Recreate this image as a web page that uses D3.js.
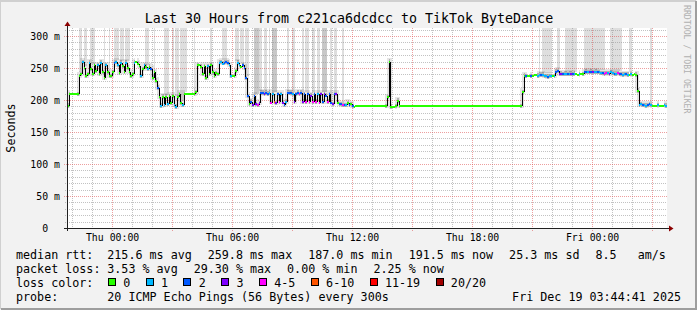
<!DOCTYPE html>
<html><head><meta charset="utf-8">
<script src="https://cdn.jsdelivr.net/npm/d3@7"></script>
<style>
html,body{margin:0;padding:0;background:#f2f2f2;}
svg{display:block;}
text{font-family:"DejaVu Sans Mono",monospace;fill:#000;}
</style></head><body>
<svg id="chart" width="697" height="310"></svg>
<script>
// ---------------- data ----------------
const titleText = "Last 30 Hours from c221ca6dcdcc to TikTok ByteDance";
const startTime = "2025-12-17T21:44:41";
const endTime   = "2025-12-19T03:44:41";
const stepMinutes = 5;

// median rtt (ms) for each 5-minute step
const median = [
 191,209,209,209,209,209,209,237,240,
 259,250,237,240,258,248,240,254,245,254,240,258,243,235,254,243,237,237,243,258,
 259,254,242,258,253,243,258,250,243,237,240,258,259,257,253,237,248,254,252,248,
 252,248,235,243,230,219,204,
 191,205,192,205,193,206,195,206,192,189,204,209,195,192,
 209,209,209,209,209,209,209,212,
 254,254,252,240,253,235,253,240,254,243,237,242,240,258,259,257,258,259,258,254,
 237,237,238,245,258,254,252,254,250,234,206,
 193,197,192,206,193,192,195,211,211,210,211,210,211,196,209,197,195,209,197,209,
 196,192,197,211,211,211,209,197,209,211,209,211,197,209,197,209,197,207,197,209,
 197,209,196,209,197,209,207,197,209,196,193,209,209,196,193,193,192,192,192,195,
 192,193,190,189,
 190,190,190,190,190,190,190,190,190,190,190,190,190,190,190,190,190,190,190,
 204,260,189,189,189,190,199,
 190,190,190,190,190,190,190,190,190,190,190,190,190,190,190,190,190,190,190,190,
 190,190,190,190,190,190,190,190,190,190,190,190,190,190,190,190,190,190,190,190,
 190,190,190,190,190,190,190,190,190,190,190,190,190,190,190,190,190,190,190,190,
 190,190,190,190,190,190,190,190,190,190,190,190,190,190,
 212,
 238,237,238,238,237,238,239,239,238,239,239,239,237,237,236,237,237,238,237,244,
 245,241,241,240,241,241,240,241,241,240,241,240,239,240,241,240,243,244,243,243,
 244,243,243,244,243,243,242,242,241,242,242,241,243,242,241,241,242,240,240,239,
 240,240,239,239,240,239,240,239,214,
 192,193,192,192,191,192,193,192,191,191,191,192,191,191,191,192,191
];

// loss class per step (index into lossLabels)
const lossClass = [
 0,0,0,0,0,0,0,0,0,
 1,0,0,0,1,0,0,0,0,1,0,1,0,0,1,0,0,0,0,2,1,1,0,1,0,0,1,0,0,0,0,1,0,0,0,1,0,1,0,1,0,2,0,0,0,2,0,
 1,0,1,0,1,0,0,0,1,1,0,0,0,1,
 0,0,0,0,0,0,0,0,
 0,0,0,0,0,0,1,0,0,0,0,0,0,1,1,1,2,2,2,1,1,0,0,0,1,1,0,2,2,2,2,
 0,2,3,2,3,4,3,2,2,3,2,2,1,4,1,5,3,2,4,1,3,2,1,2,2,2,1,3,2,2,4,2,3,2,4,2,4,3,4,2,4,1,4,3,2,3,2,4,2,2,3,2,3,0,2,2,4,2,1,0,2,0,2,0,
 0,0,0,0,0,0,0,0,0,0,0,0,0,0,0,0,0,0,0,0,0,0,0,0,0,0,0,0,0,0,0,0,0,0,0,0,0,0,0,0,0,0,0,0,0,0,0,0,0,0,
 0,0,0,0,0,0,0,0,0,0,0,0,0,0,0,0,0,0,0,0,0,0,0,0,0,0,0,0,0,0,0,0,0,0,0,0,0,0,0,0,0,0,0,0,0,0,0,0,0,0,
 0,0,2,0,0,2,0,0,0,1,1,2,1,1,1,2,1,1,0,1,2,2,3,3,2,1,1,2,1,3,2,1,0,0,1,0,0,2,2,1,3,2,3,1,1,2,1,1,2,4,
 4,1,3,1,1,2,1,4,3,2,1,1,2,1,0,1,0,0,0,0,
 1,1,2,1,1,2,2,1,0,0,0,1,0,0,0,1,1
];

// steps where part of the pings exceeded the top of the graph: [firstStep, lastStep, level]
const highPings = [
 [7,8,1],[10,11,1],[14,16,1],[22,22,1],[25,25,1],[28,30,1],[32,33,1],[35,37,1],[47,48,1],[52,52,1],
 [58,60,1],[63,63,1],[65,66,1],[68,69,1],[70,71,1],[76,76,1],
 [86,86,1],[93,95,1],[101,102,1],[104,105,1],[107,108,1],[112,114,2],[115,116,1],[118,119,1],[121,121,1],
 [123,125,2],[132,132,1],[135,136,1],[141,141,1],[143,144,1],[147,148,1],[150,151,1],[153,155,2],
 [158,158,1],[160,161,1],[165,165,1],
 [283,283,1],[285,290,1],[294,295,1],[299,305,1],[310,322,1],[326,332,1],[337,338,1],[350,350,1]
];

const yTicks = [0,50,100,150,200,250,300];
const yTickLabels = ["0","50 m","100 m","150 m","200 m","250 m","300 m"];
const xTicks = ["2025-12-18T00:00:00","2025-12-18T06:00:00","2025-12-18T12:00:00","2025-12-18T18:00:00","2025-12-19T00:00:00"];
const xTickLabels = ["Thu 00:00","Thu 06:00","Thu 12:00","Thu 18:00","Fri 00:00"];

const lossLabels = ["0","1","2","3","4-5","6-10","11-19","20/20"];
const lossColors = ["#26ff00","#00b8ff","#0059ff","#7e00ff","#ff00ff","#ff5500","#ff0000","#a10000"];

const rttLegend  = ["215.6 ms avg","259.8 ms max","187.0 ms min","191.5 ms now","25.3 ms sd","8.5   am/s"];
const lossLegend = ["3.53 % avg","29.30 % max","0.00 % min","2.25 % now"];
const probeText = "20 ICMP Echo Pings (56 Bytes) every 300s";
const dateText = "Fri Dec 19 03:44:41 2025";
const yAxisTitle = "Seconds";
const sideText = "RRDTOOL / TOBI OETIKER";

// ---------------- layout ----------------
const W = 697, H = 310;
const plot = {left:67, right:667, top:28, bottom:228};
const svg = d3.select("#chart");

const t0 = new Date(startTime), t1 = new Date(endTime);
const x = d3.scaleTime().domain([t0, t1]).range([plot.left, plot.right]);
const y = d3.scaleLinear().domain([0, 312.5]).range([plot.bottom, plot.top]);
const stepStart = i => d3.timeMinute.offset(t0, i*stepMinutes);

// background & frame
svg.append("rect").attr("width",W).attr("height",H).attr("fill","#f2f2f2");
svg.append("path").attr("d",`M0,${H-1}V1H${W-1}`).attr("fill","none").attr("stroke","#d0d0d0").attr("stroke-width",2);
svg.append("path").attr("d",`M1,${H-1}H${W-1}V1`).attr("fill","none").attr("stroke","#9e9e9e").attr("stroke-width",2);

// canvas
svg.append("rect").attr("x",plot.left).attr("y",plot.top)
  .attr("width",plot.right-plot.left).attr("height",plot.bottom-plot.top).attr("fill","#fff");

const gData = svg.append("g").attr("shape-rendering","crispEdges");

// high ping bars (smoke reaching top of graph)
highPings.forEach(([a,b,lv]) => {
  const top = d3.max(median.slice(a,b+1));
  gData.append("rect")
    .attr("x", x(stepStart(a))).attr("width", x(stepStart(b+1)) - x(stepStart(a)))
    .attr("y", plot.top).attr("height", y(top+3) - plot.top)
    .attr("fill", lv===2 ? "#c8c8c8" : "#dedede");
});

// smoke around median
median.forEach((v,i) => {
  const nb = median.slice(Math.max(0,i-1), Math.min(median.length,i+2));
  const lo = d3.min(nb), hi = d3.max(nb);
  if (hi - lo > 2 || lossClass[i] > 0) {
    const x0 = x(stepStart(i)), x1 = x(stepStart(i+1));
    gData.append("rect").attr("x",x0).attr("width",x1-x0)
      .attr("y", y(hi+6)).attr("height", y(lo-3)-y(hi+6)).attr("fill","rgba(0,0,0,0.10)");
    gData.append("rect").attr("x",x0).attr("width",x1-x0)
      .attr("y", y(v+4)).attr("height", y(v-3)-y(v+4)).attr("fill","rgba(0,0,0,0.22)");
  }
});

// grid
const gGrid = svg.append("g").attr("shape-rendering","crispEdges");
const minorY = d3.range(0, 312.5, 10).filter(v => v % 50 !== 0);
const majorY = d3.range(0, 312.5, 50);
const hours = d3.timeHour.every(1).range(t0, t1);
const minorX = hours.filter(d => d.getHours() % 3 !== 0);
const majorX = hours.filter(d => d.getHours() % 3 === 0);
const gridGray = "rgba(143,143,143,0.55)", gridRed = "rgba(222,80,80,0.55)";
minorY.forEach(v => gGrid.append("line").attr("x1",plot.left-2).attr("x2",plot.right)
  .attr("y1",Math.round(y(v))+0.5).attr("y2",Math.round(y(v))+0.5)
  .attr("stroke",gridGray).attr("stroke-dasharray","1,1"));
minorX.forEach(d => gGrid.append("line").attr("y1",plot.top).attr("y2",plot.bottom+2)
  .attr("x1",Math.round(x(d))+0.5).attr("x2",Math.round(x(d))+0.5)
  .attr("stroke",gridGray).attr("stroke-dasharray","1,1"));
majorY.filter(v=>v>0).forEach(v => gGrid.append("line").attr("x1",plot.left-3).attr("x2",plot.right)
  .attr("y1",Math.round(y(v))+0.5).attr("y2",Math.round(y(v))+0.5)
  .attr("stroke",gridRed).attr("stroke-dasharray","1,1"));
majorX.forEach(d => gGrid.append("line").attr("y1",plot.top).attr("y2",plot.bottom+3)
  .attr("x1",Math.round(x(d))+0.5).attr("x2",Math.round(x(d))+0.5)
  .attr("stroke",gridRed).attr("stroke-dasharray","1,1"));

// median line: colored step segments + black connectors
const gLine = svg.append("g").attr("shape-rendering","crispEdges");
let conn = "";
median.forEach((v,i) => {
  if (i>0 && median[i-1] !== v) {
    const xx = Math.round(x(stepStart(i)))+0.5;
    conn += `M${xx},${Math.round(y(median[i-1]))}V${Math.round(y(v))}`;
  }
});
gLine.append("path").attr("d",conn).attr("stroke","#000").attr("fill","none");
median.forEach((v,i) => {
  const x0 = x(stepStart(i)), x1 = x(stepStart(i+1));
  gLine.append("rect").attr("x",x0).attr("width",x1-x0)
    .attr("y",Math.round(y(v))-1).attr("height",2).attr("fill",lossColors[lossClass[i]]);
});

// axes
const axisColor = "#202020";
const gx = svg.append("g").attr("transform",`translate(0,${plot.bottom})`)
  .call(d3.axisBottom(x).tickValues(xTicks.map(s=>new Date(s))).tickFormat((d,i)=>xTickLabels[i]).tickSize(0));
gx.select(".domain").remove();
gx.selectAll("text").attr("y",13).attr("dy",0).style("font-size","9.85px")
  .style("font-family","DejaVu Sans Mono").attr("fill","#000");

const gy = svg.append("g").attr("transform",`translate(${plot.left},0)`)
  .call(d3.axisLeft(y).tickValues(yTicks).tickFormat((d,i)=>yTickLabels[i]).tickSize(0).tickPadding(7));
gy.select(".domain").remove();
gy.selectAll("text").attr("dy","0.33em")
  .attr("dx",(d,i)=> yTickLabels[i].includes(" ") ? 0 : -11.9)
  .style("font-size","9.85px").style("font-family","DejaVu Sans Mono").attr("fill","#000");

svg.append("line").attr("x1",plot.left-3).attr("x2",plot.right+2).attr("y1",plot.bottom+0.5).attr("y2",plot.bottom+0.5)
  .attr("stroke",axisColor).attr("shape-rendering","crispEdges");
svg.append("line").attr("x1",plot.left+0.5).attr("x2",plot.left+0.5).attr("y1",plot.bottom+3).attr("y2",plot.top-2)
  .attr("stroke",axisColor).attr("shape-rendering","crispEdges");
svg.append("path").attr("d",`M${plot.right+2},${plot.bottom-2.5}L${plot.right+6.5},${plot.bottom+0.5}L${plot.right+2},${plot.bottom+3.5}Z`).attr("fill","#8b0000");
svg.append("path").attr("d",`M${plot.left-2.5},${plot.top-2}L${plot.left+0.5},${plot.top-6.5}L${plot.left+3.5},${plot.top-2}Z`).attr("fill","#8b0000");

// title & axis title
svg.append("text").attr("x",349).attr("y",23).attr("text-anchor","middle")
  .style("font-size","13.3px").text(titleText);
svg.append("text").attr("transform","translate(15,128) rotate(-90)").attr("text-anchor","middle")
  .style("font-size","11.7px").text(yAxisTitle);
svg.append("text").attr("transform","translate(684,5) rotate(90)")
  .style("font-size","8.2px").style("fill","#b0b0b0").text(sideText);

// legend
const lg = svg.append("g").style("font-size","11.7px");
const col0 = 16, col1 = 107.3, gap = 16;
function row(label, items, yy) {
  lg.append("text").attr("x",col0).attr("y",yy).text(label);
  let xx = col1;
  items.forEach(t => {
    const el = lg.append("text").attr("x",xx).attr("y",yy).attr("xml:space","preserve").style("white-space","pre").text(t);
    xx += el.node().getComputedTextLength() + gap;
  });
}
row("median rtt:", rttLegend, 258.5);
row("packet loss:", lossLegend, 272.5);
lg.append("text").attr("x",col0).attr("y",286.5).text("loss color:");
let sx = 108;
lossLabels.forEach((lab,i) => {
  lg.append("rect").attr("x",sx+0.5).attr("y",278.5).attr("width",7).attr("height",7)
    .attr("fill",lossColors[i]).attr("stroke","#000").attr("shape-rendering","crispEdges");
  const el = lg.append("text").attr("x",sx+15.3).attr("y",286.5).text(lab);
  sx = sx + 15.3 + el.node().getComputedTextLength() + 15.4;
});
lg.append("text").attr("x",col0).attr("y",300.5).text("probe:");
lg.append("text").attr("x",col1).attr("y",300.5).text(probeText);
lg.append("text").attr("x",681).attr("y",300.5).attr("text-anchor","end").text(dateText);
</script>
</body></html>
